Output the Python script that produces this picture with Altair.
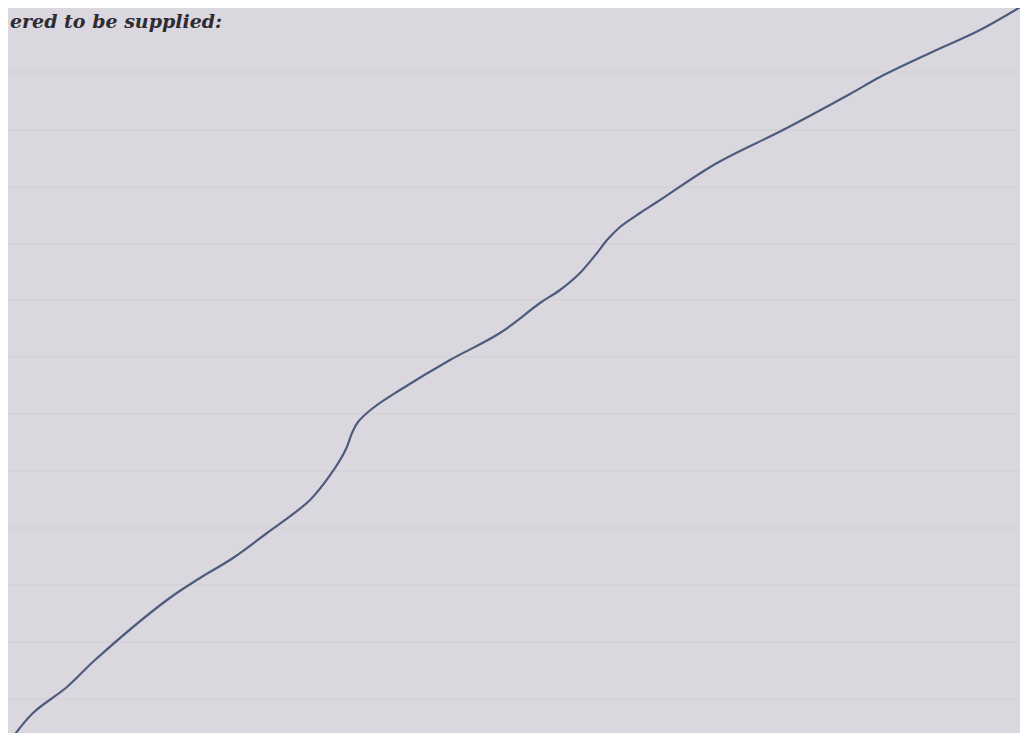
import altair as alt
import pandas as pd

# Curve (horizontal position, height above bottom edge)
curve_x = [10, 33, 67, 95, 167, 200, 233, 267, 310, 333, 346, 352, 358, 373, 400,
           450, 500, 540, 560, 580, 597, 607, 620, 640, 657, 717, 783, 850, 880,
           930, 980, 1027]
curve_y = [0, 28, 54, 81, 141, 163, 183, 208, 241, 270, 292, 308, 319, 333, 351,
           381, 408, 438, 451, 468, 488, 501, 514, 528, 539, 578, 611, 647, 664,
           688, 711, 738]

# Faint ruled lines of the page (height above bottom edge)
rule_levels = [669, 611, 554, 497, 441, 384, 327, 270, 213, 156, 99, 42]

caption = ["ered to be supplied:"]

BG = "#dbd7de"

curve_df = pd.DataFrame({"x": curve_x, "y": curve_y, "order": list(range(len(curve_x)))})
rules_df = pd.DataFrame({"y": rule_levels})
text_df = pd.DataFrame({"t": caption})

W, H = 1012, 725
xs = alt.Scale(domain=[8, 1020], nice=False, zero=False)
ys = alt.Scale(domain=[8, 733], nice=False, zero=False)

rules = alt.Chart(rules_df).mark_rule(color="#cfcbd3", strokeWidth=1.5, opacity=0.6).encode(
    y=alt.Y("y:Q", scale=ys, axis=None),
    x=alt.value(0),
    x2=alt.value(W),
)

line = alt.Chart(curve_df).mark_line(
    color="#4d5c7c", strokeWidth=2.2, interpolate="catmull-rom", clip=True
).encode(
    x=alt.X("x:Q", scale=xs, axis=None),
    y=alt.Y("y:Q", scale=ys, axis=None),
    order="order:Q",
)

text = alt.Chart(text_df).mark_text(
    align="left", baseline="middle", font="DejaVu Serif", fontStyle="italic",
    fontWeight="bold", fontSize=19, color="#2e2c33"
).encode(
    text="t:N",
    x=alt.value(2),
    y=alt.value(14),
)

chart = alt.layer(rules, line, text).properties(
    width=W, height=H,
    autosize=alt.AutoSizeParams(type="none"),
    padding=0,
    background=BG,
).configure_view(stroke=None, fill=BG)

chart.save("out.html", embed_options={"renderer": "svg", "actions": False})
